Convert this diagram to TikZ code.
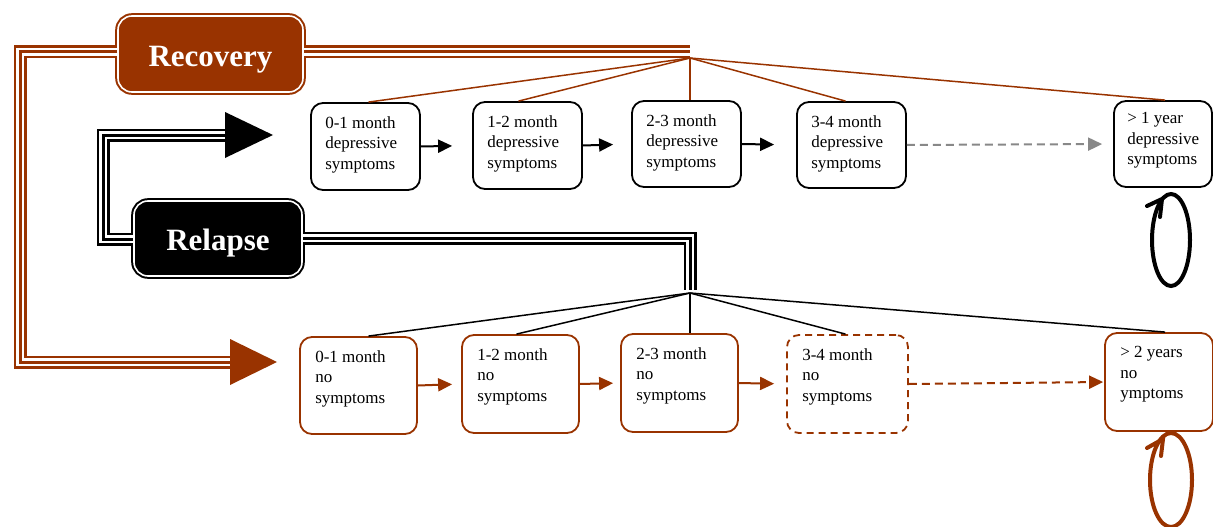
\documentclass[tikz,border=0pt]{standalone}
\usepackage{fontspec}
\setmainfont{Liberation Serif}
\usetikzlibrary{arrows.meta,calc}
\definecolor{rust}{HTML}{993300}
\definecolor{dgray}{HTML}{888888}
\tikzset{
  box/.style={draw=black, line width=1.8pt, rounded corners=12pt, inner sep=0pt, fill=white},
  rbox/.style={draw=rust, line width=1.8pt, rounded corners=12pt, inner sep=0pt, fill=white},
  txt/.style={anchor=north west, inner sep=0pt, align=left, font=\fontsize{17}{20.5}\selectfont},
  arr/.style={line width=2pt, -{Triangle[length=14pt,width=13pt]}},
  big/.style={rounded corners=14pt, line width=2pt, double=white, double distance=1.6pt,
    text=white, font=\fontsize{31}{36}\selectfont\bfseries, inner sep=0pt,
    text height=31pt, text depth=6.5pt},
  fan/.style={line width=1.5pt},
  loopline/.style={line width=4pt}
}
\newcommand{\triplepath}[2]{%
  \draw[#1, line width=13pt] #2;
  \draw[white, line width=8pt] #2;
  \draw[#1, line width=3pt] #2;}
\begin{document}
\begin{tikzpicture}[x=1pt,y=-1pt]
\useasboundingbox (0,0) rectangle (1213,527);

% top row boxes
\node[box, minimum width=109pt, minimum height=87pt] (b1) at (365.5,146.5) {};
\node[box, minimum width=109pt, minimum height=87pt] (b2) at (527.5,145.5) {};
\node[box, minimum width=109pt, minimum height=86pt] (b3) at (686.5,144) {};
\node[box, minimum width=109pt, minimum height=86pt] (b4) at (851.5,145) {};
\node[box, minimum width=98pt, minimum height=86pt] (b5) at (1163,144) {};
\node[txt] (t1) at ($(b1.north west)+(15,14)$) {0-1 month\\depressive\\symptoms};
\node[txt] (t2) at ($(b2.north west)+(15,14)$) {1-2 month\\depressive\\symptoms};
\node[txt] (t3) at ($(b3.north west)+(15,14)$) {2-3 month\\depressive\\symptoms};
\node[txt] (t4) at ($(b4.north west)+(15,14)$) {3-4 month\\depressive\\symptoms};
\node[txt] (t5) at ($(b5.north west)+(14,12)$) {> 1 year\\depressive\\symptoms};

% bottom row boxes
\node[rbox, minimum width=117pt, minimum height=97pt] (c1) at (358.5,385.5) {};
\node[rbox, minimum width=117pt, minimum height=98pt] (c2) at (520.5,384) {};
\node[rbox, minimum width=117pt, minimum height=98pt] (c3) at (679.5,383) {};
\node[rbox, dashed, dash pattern=on 7pt off 5pt, minimum width=121pt, minimum height=98pt] (c4) at (847.5,384) {};
\node[rbox, minimum width=108pt, minimum height=98pt] (c5) at (1159,382) {};
\node[txt] (u1) at ($(c1.north west)+(16,14)$) {0-1 month\\no\\symptoms};
\node[txt] (u2) at ($(c2.north west)+(16,14)$) {1-2 month\\no\\symptoms};
\node[txt] (u3) at ($(c3.north west)+(16,14)$) {2-3 month\\no\\symptoms};
\node[txt] (u4) at ($(c4.north west)+(16,14)$) {3-4 month\\no\\symptoms};
\node[txt] (u5) at ($(c5.north west)+(16,14)$) {> 2 years\\no\\ymptoms};

% arrows top
\draw[arr, shorten >=20pt] (b1.east) -- (b2.west);
\draw[arr, shorten >=18pt] (b2.east) -- (b3.west);
\draw[arr, shorten >=22pt] (b3.east) -- (b4.west);
\draw[arr, dgray, dashed, dash pattern=on 8pt off 5pt, shorten >=11pt] (b4.east) -- (b5.west);

% arrows bottom
\draw[arr, rust, shorten >=9pt] (c1.east) -- (c2.west);
\draw[arr, rust, shorten >=7pt] (c2.east) -- (c3.west);
\draw[arr, rust, shorten >=12pt] (c3.east) -- (c4.west);
\draw[arr, rust, dashed, dash pattern=on 8pt off 5pt, shorten >=1pt] (c4.east) -- (c5.west);

% Recovery / Relapse nodes
\node[big, draw=rust, fill=rust, minimum width=185pt, minimum height=76pt] (rec) at (210.5,54) {Recovery};
\node[big, draw=black, fill=black, minimum width=168pt, minimum height=75pt] (rel) at (218,238.5) {Relapse};

% coordinates
\coordinate (rhub) at (690,58);
\coordinate (rend) at (690,52);
\coordinate (ra) at (230,362);
\coordinate (lhub) at (690,293);
\coordinate (lend) at (690,290);
\coordinate (la) at (225,135);

% recovery triple lines
\triplepath{rust}{(rec.west |- 0,52) -- (20,52) -- (20,362) -- (ra)}
\triplepath{rust}{(rec.east |- 0,52) -- (rend)}
\fill[rust] (ra) ++(0,-23) -- ++(47,23) -- ++(-47,23) -- cycle;

% relapse triple lines
\triplepath{black}{(rel.west |- 0,239) -- (103,239) -- (103,135) -- (la)}
\triplepath{black}{(rel.east |- 0,238) -- (690,238) -- (lend)}
\fill[black] (la) ++(0,-23) -- ++(48,23) -- ++(-48,23) -- cycle;

% fans
\draw[fan, rust] (rhub) -- ($(b1.north)+(3,0)$);
\draw[fan, rust] (rhub) -- ($(b2.north)+(-9,0)$);
\draw[fan, rust] (rhub) -- (rhub |- b3.north);
\draw[fan, rust] (rhub) -- ($(b4.north)+(-6,0)$);
\draw[fan, rust] (rhub) -- ($(b5.north)+(2,0)$);

\draw[fan, black] (lhub) -- ($(c1.north)+(10,0)$);
\draw[fan, black] (lhub) -- ($(c2.north)+(-4,0)$);
\draw[fan, black] (lhub) -- (lhub |- c3.north);
\draw[fan, black] (lhub) -- ($(c4.north)+(-2,0)$);
\draw[fan, black] (lhub) -- ($(c5.north)+(6,0)$);

% loops
\draw[loopline, black] (1171,240) ellipse [x radius=19, y radius=46];
\draw[loopline, black, line cap=round] (1147,206) -- (1162,199) -- (1160,217);
\draw[loopline, rust] (1171,480) ellipse [x radius=21, y radius=47];
\draw[loopline, rust, line cap=round] (1147,448) -- (1163,439) -- (1161,456);
\end{tikzpicture}
\end{document}
